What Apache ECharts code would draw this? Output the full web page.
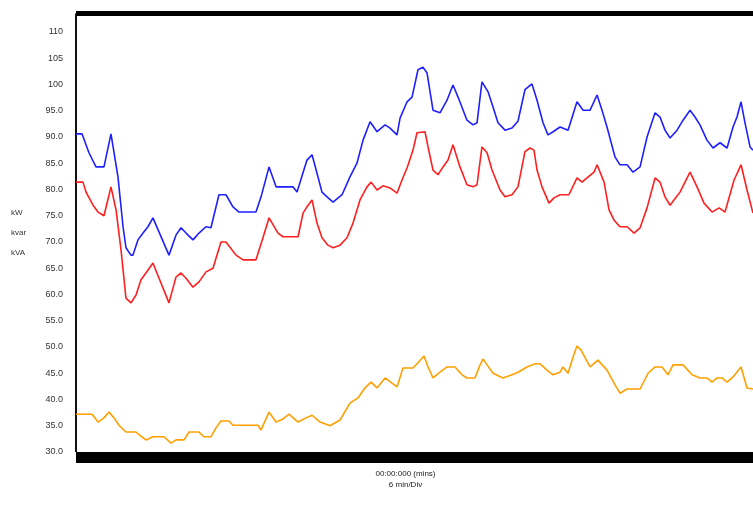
<!DOCTYPE html>
<html style="height: 100%">
   <head>
       <meta charset="utf-8">
   </head>
   <body style="height: 100%; margin: 0; background: #fff">
       <div id="container" style="width: 753px; height: 507px"></div>
       <script type="text/javascript" src="https://cdn.jsdelivr.net/npm/echarts@6/dist/echarts.min.js"></script>
       <script type="text/javascript">
        // [minutes, value]
        var kvaPoints = [
            [0,90.6],[0.53,90.6],[1.15,87.0],[1.77,84.3],[2.48,84.3],[3.10,90.6],[3.72,82.4],[4.17,72.9],
            [4.43,68.9],[4.87,67.5],[5.05,67.5],[5.49,70.4],[5.94,71.7],[6.38,72.9],[6.82,74.6],[8.24,67.5],
            [8.86,71.3],[9.31,72.7],[9.75,71.7],[10.37,70.4],[10.90,71.7],[11.52,72.9],[11.96,72.7],[12.67,79.0],
            [13.29,79.0],[13.91,76.7],[14.45,75.7],[15.95,75.7],[16.40,78.6],[17.11,84.3],[17.73,80.5],[19.23,80.5],
            [19.59,79.5],[20.47,85.6],[20.92,86.6],[21.36,83.1],[21.80,79.5],[22.25,78.6],[22.78,77.6],[23.58,79.0],
            [24.28,82.4],[24.90,85.0],[25.44,89.4],[26.06,92.9],[26.68,91.0],[27.39,92.3],[27.83,91.7],[28.45,90.4],
            [28.72,93.6],[29.34,96.7],[29.78,97.6],[30.31,102.8],[30.75,103.3],[31.11,102.2],[31.64,95.1],[32.26,94.6],
            [32.88,97.0],[33.41,99.9],[33.86,97.6],[34.65,93.2],[35.19,92.3],[35.54,92.7],[35.98,100.5],[36.52,98.6],
            [36.96,95.7],[37.40,92.7],[38.02,91.3],[38.64,91.7],[39.17,93.0],[39.79,99.0],[40.41,100.1],[40.86,97.0],
            [41.39,92.7],[41.83,90.4],[42.28,91.0],[42.90,91.9],[43.61,91.3],[44.40,96.7],[44.94,95.1],[45.56,95.1],
            [46.18,98.0],[46.62,95.1],[47.06,91.9],[47.77,86.2],[48.21,84.7],[48.84,84.7],[49.37,83.3],[49.99,84.3],
            [50.61,90.0],[51.32,94.6],[51.76,93.8],[52.20,91.3],[52.65,89.8],[53.27,91.3],[53.80,93.2],[54.42,95.1],
            [54.86,93.8],[55.30,92.3],[55.92,89.4],[56.46,87.9],[57.08,88.9],[57.70,87.9],[58.23,91.9],[58.58,93.8],
            [58.94,96.7],[59.29,92.7],[59.74,88.1],[60,87.5]
        ];
        var kwPoints = [
            [0,81.4],[0.62,81.4],[0.89,79.5],[1.51,77.0],[1.95,75.7],[2.48,75.0],[3.10,80.5],[3.55,76.1],
            [3.99,68.5],[4.43,59.3],[4.87,58.4],[5.32,59.9],[5.76,62.8],[6.20,64.1],[6.82,66.0],[7.53,62.2],
            [8.24,58.4],[8.86,63.3],[9.31,64.1],[9.75,63.1],[10.37,61.4],[10.90,62.4],[11.52,64.3],[12.14,65.0],
            [12.85,70.0],[13.29,70.0],[14.18,67.5],[14.80,66.6],[15.95,66.6],[16.57,70.8],[17.11,74.6],[17.90,71.7],
            [18.35,71.0],[19.68,71.0],[20.12,75.5],[20.47,76.7],[20.92,78.0],[21.36,73.6],[21.80,70.8],[22.33,69.4],
            [22.78,68.9],[23.40,69.4],[24.02,70.8],[24.55,73.6],[25.17,78.0],[25.79,80.5],[26.15,81.4],[26.68,79.9],
            [27.21,80.7],[27.83,80.3],[28.45,79.3],[28.89,81.8],[29.34,84.1],[29.87,87.5],[30.22,90.8],[30.93,91.0],
            [31.20,88.1],[31.64,83.7],[32.08,82.8],[32.53,84.3],[32.97,85.6],[33.41,88.5],[34.03,84.3],[34.65,80.9],
            [35.19,80.5],[35.54,80.9],[35.98,88.1],[36.43,87.0],[36.87,83.7],[37.58,79.9],[38.02,78.6],[38.64,79.0],
            [39.17,80.5],[39.79,87.2],[40.24,87.9],[40.59,87.5],[40.86,83.7],[41.30,80.5],[41.92,77.4],[42.36,78.4],
            [42.90,79.0],[43.69,79.0],[44.40,82.2],[44.85,81.4],[45.29,82.2],[45.91,83.3],[46.18,84.7],[46.80,81.4],
            [47.24,76.1],[47.68,74.2],[48.21,72.9],[48.84,72.9],[49.46,71.7],[49.99,72.7],[50.61,76.5],[51.32,82.2],
            [51.76,81.4],[52.20,78.6],[52.65,77.0],[53.00,78.0],[53.53,79.5],[54.42,83.3],[55.04,80.5],[55.66,77.4],
            [56.37,75.7],[56.99,76.5],[57.52,75.7],[58.32,81.8],[58.94,84.7],[59.47,79.9],[60,75.5]
        ];
        var kvarPoints = [
            [0,37.2],[1.42,37.2],[1.95,35.7],[2.48,36.5],[2.92,37.6],[3.37,36.5],[3.81,35.1],[4.43,33.8],
            [5.32,33.8],[5.76,33.0],[6.20,32.3],[6.82,32.9],[7.80,32.9],[8.42,31.7],[8.86,32.3],[9.57,32.3],
            [10.02,33.8],[10.90,33.8],[11.34,32.9],[11.96,32.9],[12.41,34.6],[12.85,35.9],[13.56,35.9],[13.91,35.1],
            [16.13,35.1],[16.40,34.2],[17.11,37.6],[17.73,35.7],[18.35,36.3],[18.88,37.2],[19.68,35.7],[20.38,36.5],
            [20.92,37.0],[21.63,35.7],[22.51,35.0],[23.40,36.1],[24.28,39.3],[24.99,40.3],[25.61,42.2],[26.15,43.3],
            [26.68,42.2],[27.39,44.1],[28.01,43.1],[28.45,42.4],[28.98,46.0],[29.87,46.0],[30.31,47.0],[30.84,48.3],
            [31.20,46.2],[31.64,44.1],[32.26,45.2],[32.88,46.2],[33.59,46.2],[34.21,44.7],[34.65,44.1],[35.36,44.1],
            [35.81,46.6],[36.07,47.7],[36.43,46.6],[36.96,45.0],[37.84,44.1],[38.64,44.7],[39.17,45.2],[39.97,46.2],
            [40.68,46.8],[41.12,46.8],[41.74,45.6],[42.28,44.7],[42.90,45.2],[43.16,46.2],[43.61,45.0],[44.05,48.1],
            [44.40,50.2],[44.76,49.4],[45.56,46.2],[46.26,47.5],[47.06,45.6],[47.77,42.8],[48.21,41.2],[48.84,42.0],
            [49.99,42.0],[50.70,45.0],[51.32,46.2],[51.94,46.2],[52.47,44.7],[52.91,46.6],[53.80,46.6],[54.60,44.7],
            [55.30,44.1],[55.92,44.1],[56.37,43.3],[56.81,44.1],[57.26,44.1],[57.70,43.3],[58.23,44.3],[58.94,46.2],
            [59.47,42.2],[60,42.0]
        ];
        var yTicks = { min: 30, max: 113.5, step: 5 };
        var xRange = { min: 0, max: 60 };

        var dom = document.getElementById("container");
        var myChart = echarts.init(dom);
        var labelFont = '"Liberation Sans Narrow", "Liberation Sans", sans-serif';

        var option = {
            animation: false,
            backgroundColor: '#fff',
            grid: { left: 76, right: 0, top: 13.6, bottom: 55 },
            xAxis: [{
                type: 'value',
                min: xRange.min,
                max: xRange.max,
                offset: 5.5,
                axisLine: { lineStyle: { color: '#000', width: 11, cap: 'butt' } },
                axisTick: { show: false },
                axisLabel: { show: false },
                splitLine: { show: false },
                name: '00:00:000 (mins)\n6 min/Div',
                nameLocation: 'middle',
                nameGap: 11,
                nameTextStyle: {
                    fontSize: 8, lineHeight: 11, color: '#222', fontFamily: labelFont,
                    align: 'center', verticalAlign: 'top', padding: [0, 18, 0, 0]
                }
            }, {
                type: 'value',
                position: 'top',
                min: xRange.min,
                max: xRange.max,
                axisLine: { lineStyle: { color: '#000', width: 5, cap: 'butt' } },
                axisTick: { show: false },
                axisLabel: { show: false },
                splitLine: { show: false }
            }],
            yAxis: {
                type: 'value',
                min: yTicks.min,
                max: yTicks.max,
                interval: yTicks.step,
                axisLine: { show: true, lineStyle: { color: '#111', width: 2, cap: 'butt' } },
                axisTick: { show: false },
                splitLine: { show: false },
                axisLabel: {
                    margin: 13,
                    fontSize: 9,
                    color: '#333',
                    fontFamily: labelFont,
                    showMaxLabel: false,
                    formatter: function (v) {
                        if (v % 5 !== 0) return '';
                        return v >= 100 ? v.toFixed(0) : v.toFixed(1);
                    }
                },
                name: 'kW\nkvar\nkVA',
                nameLocation: 'middle',
                nameRotate: 0,
                nameGap: 65,
                nameTextStyle: {
                    fontSize: 8, lineHeight: 20, color: '#333', fontFamily: labelFont,
                    align: 'left', verticalAlign: 'middle'
                }
            },
            series: [{
                name: 'kVA',
                type: 'line',
                data: kvaPoints,
                showSymbol: false,
                lineStyle: { color: '#1f1fff', width: 1.6 },
                itemStyle: { color: '#1f1fff' }
            }, {
                name: 'kW',
                type: 'line',
                data: kwPoints,
                showSymbol: false,
                lineStyle: { color: '#ff1f1f', width: 1.6 },
                itemStyle: { color: '#ff1f1f' }
            }, {
                name: 'kvar',
                type: 'line',
                data: kvarPoints,
                showSymbol: false,
                lineStyle: { color: '#ffa000', width: 1.6 },
                itemStyle: { color: '#ffa000' }
            }]
        };

        myChart.setOption(option);
       </script>
   </body>
</html>
